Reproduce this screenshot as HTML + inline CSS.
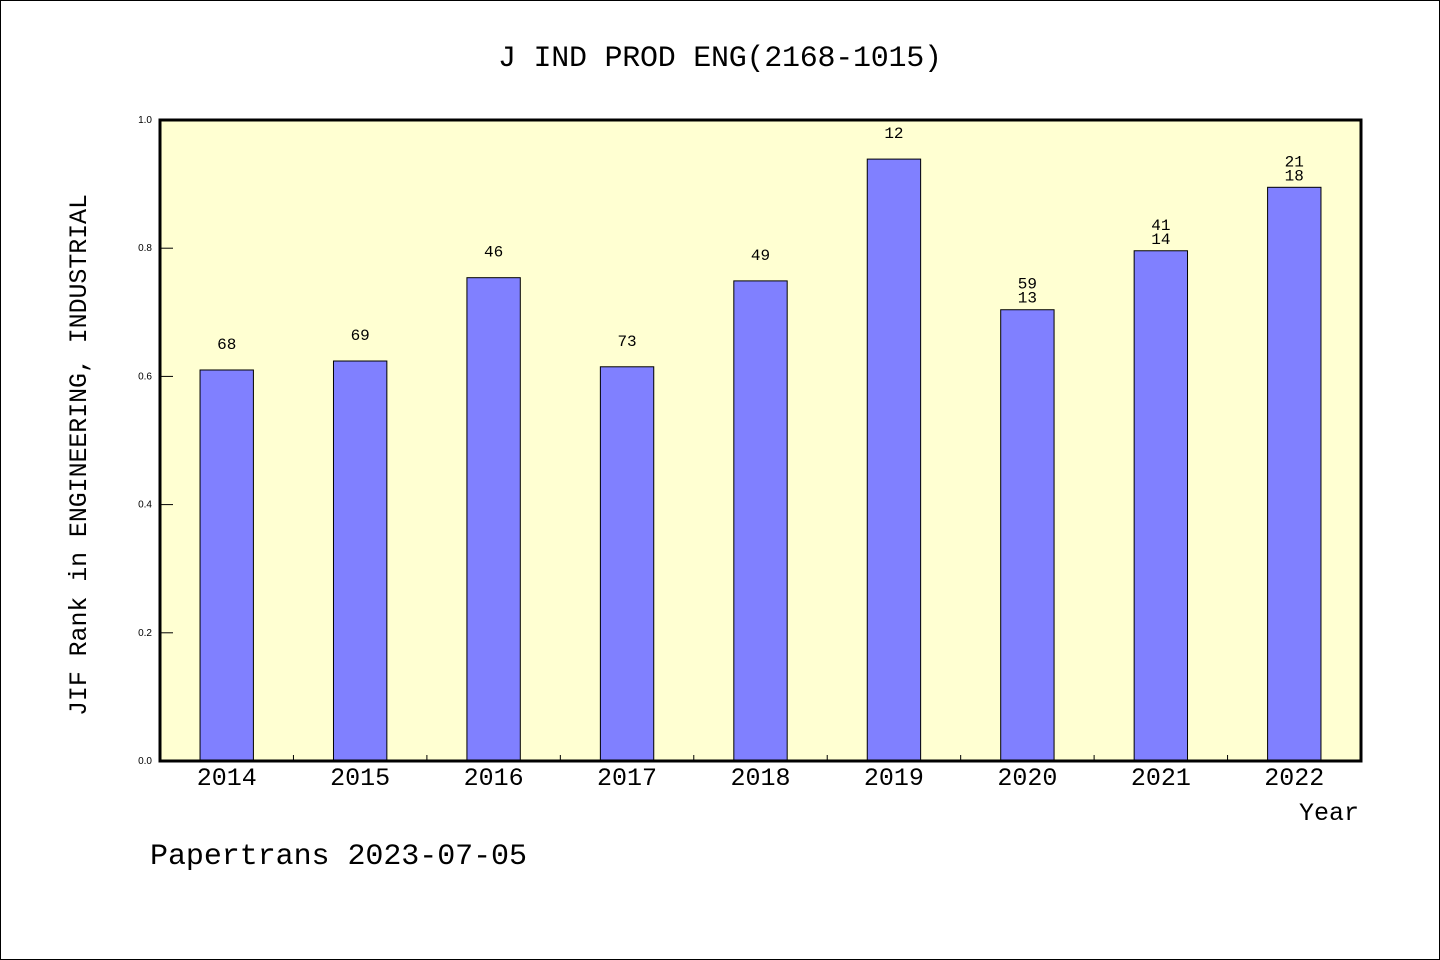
<!DOCTYPE html>
<html><head><meta charset="utf-8">
<style>
html,body{margin:0;padding:0;background:#fff;}
svg{display:block;font-family:"Liberation Mono","DejaVu Sans Mono",monospace;}
</style></head>
<body>
<svg width="1440" height="960" viewBox="0 0 1440 960">
<rect x="0.5" y="0.5" width="1439" height="959" fill="#fff" stroke="#000"/>
<text x="720" y="66" text-anchor="middle" font-size="30" textLength="444">J IND PROD ENG(2168-1015)</text>
<rect x="160" y="120" width="1201" height="641" fill="#ffffd2"/>
<g id="bars"></g>
<g id="labels"></g>
<g id="xaxis"></g>
<g id="yaxis"></g>
<rect x="160" y="120" width="1201" height="641" fill="none" stroke="#000" stroke-width="3"/>
<text transform="translate(86,455) rotate(-90)" text-anchor="middle" font-size="25" textLength="522">JIF Rank in ENGINEERING, INDUSTRIAL</text>
<text x="1359" y="820" text-anchor="end" font-size="25">Year</text>
<text x="150" y="864" font-size="30" textLength="377">Papertrans 2023-07-05</text>
</svg>
<script>
const categories = ["2014","2015","2016","2017","2018","2019","2020","2021","2022"];
const values = [0.610, 0.624, 0.754, 0.615, 0.749, 0.939, 0.704, 0.796, 0.895];
const labelTop = ["68","69","46","73","49","12","59","41","21"];
const labelBottom = ["","","","","","","13","14","18"];
const yTicks = [0,0.2,0.4,0.6,0.8,1.0];
const yTickLabels = ["0.0","0.2","0.4","0.6","0.8","1.0"];

const NS="http://www.w3.org/2000/svg";
const X0=160,X1=1361,Y0=761,Y1=120;
const step=(X1-X0)/categories.length;
const xc=i=>X0+step*(i+0.5);
const y=v=>Y0-(v)*(Y0-Y1);
function mk(tag,attrs,parent){const e=document.createElementNS(NS,tag);for(const k in attrs)e.setAttribute(k,attrs[k]);parent.appendChild(e);return e;}
const bars=document.getElementById('bars'),labels=document.getElementById('labels'),xa=document.getElementById('xaxis'),ya=document.getElementById('yaxis');
const bw=step*0.4;
values.forEach((v,i)=>{
  const r=mk('rect',{x:xc(i)-bw/2,y:y(v),width:bw,height:Y0-y(v),fill:'#8080ff',stroke:'#000','stroke-width':1},bars);
  
  
  const t1=mk('text',{x:xc(i),y:y(v)-21,'text-anchor':'middle','font-size':16},labels);
  t1.textContent=labelTop[i];
  
  
  if(labelBottom[i]){
    const t2=mk('text',{x:xc(i),y:y(v)-7,'text-anchor':'middle','font-size':16},labels);
    t2.textContent=labelBottom[i];
    
    
  }
  const xt=mk('text',{x:xc(i),y:785,'text-anchor':'middle','font-size':25},xa);
  xt.textContent=categories[i];
  
  
  if(i>0){
    const tk=mk('line',{x1:X0+step*i,x2:X0+step*i,y1:Y0,y2:Y0-6,stroke:'#000','stroke-width':1},xa);
    
    
  }
});
yTicks.forEach((v,i)=>{
  const l=mk('line',{x1:X0,x2:X0+13,y1:y(v),y2:y(v),stroke:'#000','stroke-width':1},ya);
  
  
  const t=mk('text',{x:X0-8,y:y(v)+3,'text-anchor':'end','font-size':10,'font-family':'Liberation Sans, sans-serif'},ya);
  t.textContent=yTickLabels[i];
  
  
});
</script>
</body></html>
